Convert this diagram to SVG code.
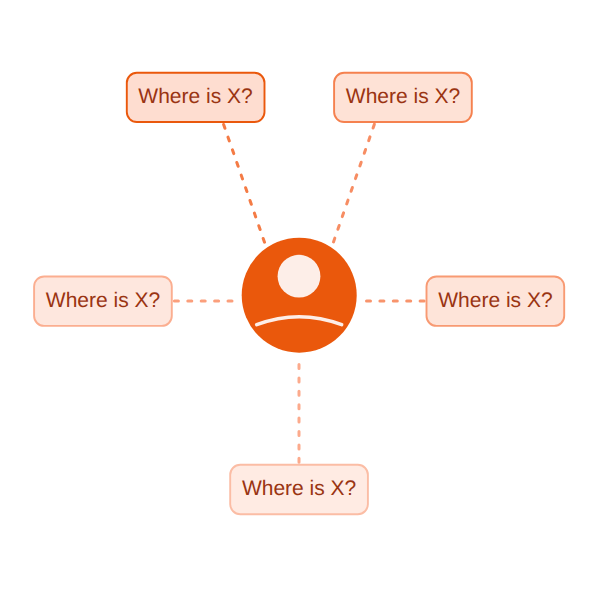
<svg xmlns="http://www.w3.org/2000/svg" width="600" height="600" viewBox="0 0 600 600">
<style>
.box{stroke-width:1.9}
.lbl{font-family:"Liberation Sans",Arial,sans-serif;font-size:21px;fill:#9A3412;text-anchor:middle;text-rendering:geometricPrecision}
.c{fill:none;stroke-width:3;stroke-linecap:round;stroke-dasharray:4 9.400}
</style>
<rect width="600" height="600" fill="#fff"/>
<g id="connectors">
<line class="c" stroke="#F47B45" x1="264.500" y1="242.200" x2="223.100" y2="123"/>
<line class="c" stroke="#F78D63" x1="333.500" y1="241.900" x2="374.800" y2="123"/>
<line class="c" stroke="#FB9F7C" x1="232" y1="301" x2="173" y2="301"/>
<line class="c" stroke="#F8946C" x1="366.500" y1="301" x2="426" y2="301"/>
<line class="c" stroke="#FCAA8C" x1="299" y1="364.500" x2="299" y2="465"/>
</g>
<g id="node-top-left"><rect class="box" x="126.800" y="72.800" width="137.700" height="49.200" rx="10" fill="#FEDDD0" stroke="#EA580C"/><text class="lbl" x="195.500" y="102.700">Where is X?</text></g>
<g id="node-top-right"><rect class="box" x="334.100" y="72.800" width="137.700" height="49.200" rx="10" fill="#FEE2D6" stroke="#F5814F"/><text class="lbl" x="403" y="102.700">Where is X?</text></g>
<g id="node-left"><rect class="box" x="34.100" y="276.500" width="137.700" height="49.400" rx="10" fill="#FEE7DE" stroke="#FBAE90"/><text class="lbl" x="103" y="306.500">Where is X?</text></g>
<g id="node-right"><rect class="box" x="426.500" y="276.500" width="137.700" height="49.400" rx="10" fill="#FEE4D9" stroke="#F89A73"/><text class="lbl" x="495.400" y="306.500">Where is X?</text></g>
<g id="node-bottom"><rect class="box" x="230.200" y="464.800" width="137.700" height="49.400" rx="10" fill="#FFEBE3" stroke="#FBBDA5"/><text class="lbl" x="299.100" y="494.500">Where is X?</text></g>
<g id="person">
<circle cx="299.200" cy="295.200" r="57.500" fill="#EA580C"/>
<circle cx="299" cy="276.200" r="21.400" fill="#FDEEE8"/>
<path d="M256.700 324.700Q299.200 308.700 341.700 324.700" fill="none" stroke="#FDEEE8" stroke-width="3.500" stroke-linecap="round"/>
</g>
</svg>
